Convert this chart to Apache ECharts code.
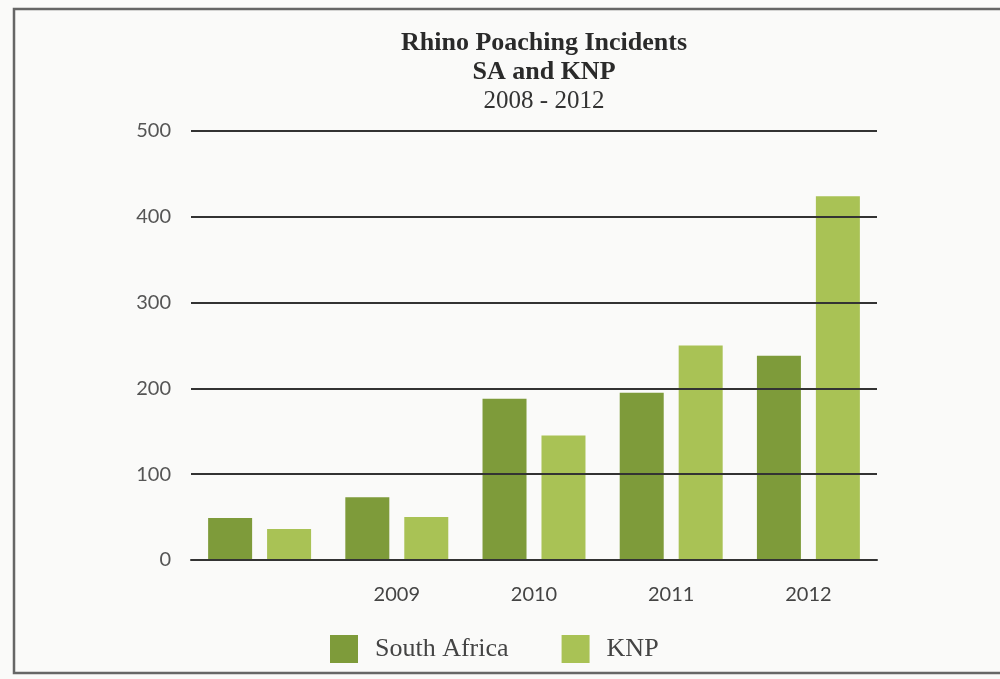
<!DOCTYPE html>
<html>
<head>
<meta charset="utf-8">
<script src="https://cdn.jsdelivr.net/npm/echarts@6/dist/echarts.min.js"></script>
<style>
html,body{margin:0;padding:0;background:#fafaf9;}
#chart{width:1000px;height:679px;}
</style>
</head>
<body>
<div id="chart"></div>
<script>
const categories = ['', '2009', '2010', '2011', '2012'];
const southAfrica = [49, 73, 188, 195, 238];
const knp = [36, 50, 145, 250, 424];
const yTicks = [0, 100, 200, 300, 400, 500];
const titleLines = ['Rhino Poaching Incidents', 'SA and KNP', '2008 - 2012'];

const chart = echarts.init(document.getElementById('chart'));
chart.setOption({
  backgroundColor: '#fafaf9',
  animation: false,
  title: {
    text: '{b|' + titleLines[0] + '}\n{b|' + titleLines[1] + '}\n{r|' + titleLines[2] + '}',
    left: 539, top: 24, textAlign: 'center',
    textStyle: {
      fontFamily: 'Liberation Serif', fontSize: 26, color: '#2a2a2a', lineHeight: 29,
      rich: {
        b: { fontFamily: 'Liberation Serif', fontSize: 26, fontWeight: 'bold', color: '#2a2a2a', lineHeight: 29 },
        r: { fontFamily: 'Liberation Serif', fontSize: 25, fontWeight: 'normal', color: '#333', lineHeight: 29 }
      }
    }
  },
  legend: {
    left: 325, top: 630, itemWidth: 28, itemHeight: 28, itemGap: 53,
    textStyle: { fontFamily: 'Liberation Serif', fontSize: 26, color: '#444', padding: [0, 0, 0, 12] },
    data: ['South Africa', 'KNP'],
    icon: 'rect'
  },
  graphic: [{
    type: 'rect', shape: { x: 14, y: 9, width: 1000, height: 664 },
    style: { fill: 'none', stroke: '#666', lineWidth: 2.5 }, silent: true
  }],
  grid: { left: 191, right: 123, top: 131, bottom: 119 },
  xAxis: {
    type: 'category', data: categories,
    axisLine: { show: true, lineStyle: { color: '#333', width: 2 } },
    axisTick: { show: false },
    axisLabel: { fontFamily: 'Lato', fontSize: 20, color: '#444', margin: 25 }
  },
  yAxis: {
    type: 'value', min: 0, max: 500, interval: 100, z: 5,
    axisLine: { show: false }, axisTick: { show: false },
    axisLabel: { fontFamily: 'Lato', fontSize: 20, color: '#555', margin: 20,
      formatter: v => yTicks.includes(v) ? String(v) : '' },
    splitLine: { lineStyle: { color: '#333', width: 2 } }
  },
  series: [
    { name: 'South Africa', type: 'bar', data: southAfrica, barWidth: 44, barGap: '34%',
      itemStyle: { color: '#7e9b3a' } },
    { name: 'KNP', type: 'bar', data: knp, barWidth: 44,
      itemStyle: { color: '#a9c255' } }
  ]
});
</script>
</body>
</html>
